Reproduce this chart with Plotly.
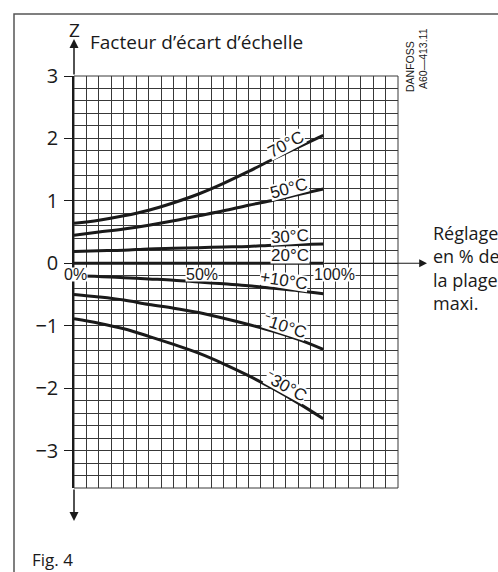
import plotly.graph_objects as go

# ---- data ----
x_pct = [0, 10, 20, 30, 40, 50, 60, 70, 80, 90, 100]
z_70 = [0.64, 0.69, 0.76, 0.85, 0.97, 1.11, 1.28, 1.47, 1.67, 1.86, 2.05]
z_50 = [0.45, 0.50, 0.55, 0.61, 0.68, 0.76, 0.84, 0.93, 1.01, 1.10, 1.19]
z_30 = [0.19, 0.20, 0.21, 0.23, 0.24, 0.25, 0.26, 0.27, 0.29, 0.30, 0.31]
z_20 = [0, 0, 0, 0, 0, 0, 0, 0, 0, 0, 0]
z_p10 = [-0.20, -0.21, -0.23, -0.25, -0.27, -0.30, -0.33, -0.36, -0.40, -0.44, -0.49]
z_m10 = [-0.50, -0.54, -0.59, -0.66, -0.72, -0.79, -0.88, -0.98, -1.09, -1.22, -1.38]
z_m30 = [-0.89, -0.96, -1.05, -1.17, -1.30, -1.44, -1.61, -1.80, -2.01, -2.24, -2.49]

series = [z_70, z_50, z_30, z_20, z_p10, z_m10, z_m30]
curve_labels = ["70°C", "50°C", "30°C", "20°C", "+10°C", "⁻10°C", "⁻30°C"]
label_x = [85.0, 86.2, 86.6, 86.6, 84.4, 84.6, 85.0]
label_y = [1.90, 1.19, 0.43, 0.13, -0.27, -1.01, -1.98]
label_angle = [-28, -15, -4, 0, 9, 18, 29]

y_ticks = [-3, -2, -1, 0, 1, 2, 3]
y_ticktext = ["−3", "−2", "−1", "0", "1", "2", "3"]
pct_ticks = [0, 50, 100]
pct_text = ["0%", "50%", "100%"]

W, H = 498, 572
ML, MR, MT, MB = 74, 100, 76, 84
PW, PH = W - ML - MR, H - MT - MB


def px2paper_x(px):
    return (px - ML) / PW


def px2paper_y(py):
    return (H - MB - py) / PH


INK = "#1a1a1a"
GRID = "#383838"
FONT = "Liberation Sans"
FONT2 = "Open Sans"

fig = go.Figure()
for ys in series:
    fig.add_trace(go.Scatter(x=x_pct, y=ys, mode="lines",
                             line=dict(color=INK, width=3, shape="spline"),
                             hoverinfo="skip", showlegend=False))

# curve labels
for t, lx, ly, ang in zip(curve_labels, label_x, label_y, label_angle):
    fig.add_annotation(x=lx, y=ly, xref="x", yref="y", text=t, showarrow=False,
                       textangle=ang, bgcolor="white", borderpad=0, height=15,
                       xanchor="center", yanchor="middle",
                       font=dict(family=FONT, size=17, color=INK))

# percent labels
pct_off = [0.4, 1.3, 4.7]
for v, t, o in zip(pct_ticks, pct_text, pct_off):
    fig.add_annotation(x=v + o, y=-0.18, xref="x", yref="y", text=t, showarrow=False,
                       bgcolor="white", borderpad=0, height=13,
                       xanchor="center", yanchor="middle",
                       font=dict(family=FONT, size=16, color=INK))

# y axis arrows
fig.add_annotation(x=0, y=px2paper_y(39), xref="x", yref="paper", text="",
                   showarrow=True, arrowhead=2, arrowsize=1.2, arrowwidth=1.5,
                   arrowcolor=INK, ax=0, ay=37, standoff=0)
fig.add_annotation(x=0, y=px2paper_y(521), xref="x", yref="paper", text="",
                   showarrow=True, arrowhead=2, arrowsize=1.2, arrowwidth=1.5,
                   arrowcolor=INK, ax=0, ay=-33, standoff=0)
# x axis arrow
fig.add_annotation(x=px2paper_x(427), y=0, xref="paper", yref="y", text="",
                   showarrow=True, arrowhead=2, arrowsize=1.3, arrowwidth=1.2,
                   arrowcolor=INK, ax=-104, ay=0, standoff=0)

# Z and title
fig.add_annotation(x=px2paper_x(74), y=px2paper_y(30), xref="paper", yref="paper",
                   text="Z", showarrow=False, xanchor="center", yanchor="middle",
                   font=dict(family=FONT2, size=19, color=INK))
fig.add_annotation(x=px2paper_x(88), y=px2paper_y(42), xref="paper", yref="paper",
                   text="Facteur d’écart d’échelle", showarrow=False,
                   xanchor="left", yanchor="middle",
                   font=dict(family=FONT2, size=19, color=INK))

# DANFOSS code
fig.add_annotation(x=px2paper_x(410), y=px2paper_y(67), xref="paper", yref="paper",
                   text="DANFOSS", showarrow=False, textangle=-90,
                   xanchor="center", yanchor="middle",
                   font=dict(family=FONT, size=10.5, color=INK))
fig.add_annotation(x=px2paper_x(423), y=px2paper_y(58), xref="paper", yref="paper",
                   text="A60—413.11", showarrow=False, textangle=-90,
                   xanchor="center", yanchor="middle",
                   font=dict(family=FONT, size=10.5, color=INK))

# right side text
fig.add_annotation(x=px2paper_x(431), y=px2paper_y(268), xref="paper", yref="paper",
                   text="Réglage<br>en % de<br>la plage<br>maxi.", showarrow=False,
                   xanchor="left", yanchor="middle", align="left",
                   font=dict(family=FONT2, size=18, color=INK))

# Fig. 4
fig.add_annotation(x=px2paper_x(30), y=px2paper_y(559), xref="paper", yref="paper",
                   text="Fig. 4", showarrow=False, xanchor="left", yanchor="middle",
                   font=dict(family=FONT2, size=17, color=INK))

# outer frame
fig.add_shape(type="rect", xref="paper", yref="paper",
              x0=px2paper_x(14), x1=px2paper_x(520), y0=px2paper_y(600), y1=px2paper_y(14),
              line=dict(color="#555555", width=1.5), layer="above")
# plot-area border
fig.add_shape(type="rect", xref="paper", yref="paper", x0=0, x1=1, y0=0, y1=1,
              line=dict(color=GRID, width=1), layer="between")

fig.update_layout(
    width=W, height=H, autosize=False,
    margin=dict(l=ML, r=MR, t=MT, b=MB),
    paper_bgcolor="white", plot_bgcolor="white",
    xaxis=dict(range=[0, 130], dtick=5, tick0=0, showgrid=True, gridcolor=GRID, gridwidth=1,
               showticklabels=False, ticks="", zeroline=False, showline=False,
               fixedrange=True),
    yaxis=dict(range=[-3.6, 3], tickvals=y_ticks, ticktext=y_ticktext, showgrid=True,
               gridcolor=GRID, gridwidth=1, ticks="outside", ticklen=8, tickwidth=1,
               tickcolor=INK, zeroline=False, showline=True, linecolor=INK, linewidth=1.5,
               tickfont=dict(family=FONT2, size=20, color=INK), ticklabelstandoff=2,
               minor=dict(dtick=0.2, tick0=0, showgrid=True, gridcolor=GRID, gridwidth=1, ticks=""),
               fixedrange=True),
    showlegend=False,
)

fig.write_html("out.html", config={"displayModeBar": False},
               post_script="document.body.style.margin='0';document.body.style.overflow='hidden';")
